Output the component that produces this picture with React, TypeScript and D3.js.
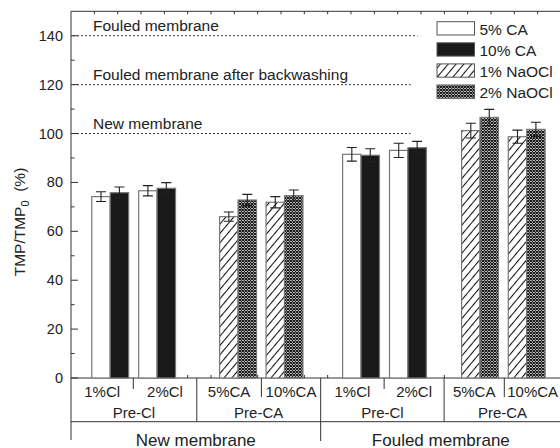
import * as d3 from 'd3';
import { useEffect, useRef } from 'react';

// sub-categories (x table, first row)
const groups = ['1%Cl', '2%Cl', '5%CA', '10%CA', '1%Cl', '2%Cl', '5%CA', '10%CA'];
// bar pair centres in x-axis units
const groupPos = [1.68, 3.69, 7.16, 9.15, 12.43, 14.44, 17.53, 19.53];
// treatment shown by each pair
const groupKind = ['CA', 'CA', 'NaOCl', 'NaOCl', 'CA', 'CA', 'NaOCl', 'NaOCl'];

// low dose bar (5% CA / 1% NaOCl) and high dose bar (10% CA / 2% NaOCl)
const lowValues = [74.2, 76.6, 66.0, 71.9, 91.5, 93.1, 101.2, 98.7];
const lowErrors = [2.0, 2.1, 1.9, 2.3, 2.8, 2.9, 3.0, 2.7];
const highValues = [75.8, 77.6, 72.8, 74.6, 91.1, 94.2, 106.6, 101.7];
const highErrors = [2.3, 2.3, 2.3, 2.3, 2.7, 2.6, 3.3, 2.9];

const legendLabels = ['5% CA', '10% CA', '1% NaOCl', '2% NaOCl'];

// reference TMP levels
const refValues = [140, 120, 100];
const refLabels = ['Fouled membrane', 'Fouled membrane after backwashing', 'New membrane'];
const refEnds = [14.85, 14.55, 14.55];

// table of x categories
const cellEdges = [0, 2.67, 5.39, 8.16, 10.7, 13.42, 15.99, 18.57, 21.0];
const pretreatLabels = ['Pre-Cl', 'Pre-CA', 'Pre-Cl', 'Pre-CA'];
const membraneLabels = ['New membrane', 'Fouled membrane'];

const yTicks = [0, 20, 40, 60, 80, 100, 120, 140];

export default function App() {
  const chartRef = useRef(null);

  const width = 560;
  const height = 448;
  const margin = { top: 11.3, left: 71, bottom: 378 };
  const font = 'Liberation Sans, Arial, sans-serif';

  useEffect(() => {
    const svg = d3.select(chartRef.current);
    svg.selectAll('*').remove();

    const x = d3.scaleLinear().domain([0, 21.3]).range([margin.left, 568]);
    const y = d3.scaleLinear().domain([0, 150]).range([margin.bottom, margin.top]);

    // patterns
    const defs = svg.append('defs');
    const hatch = defs
      .append('pattern')
      .attr('id', 'hatch')
      .attr('patternUnits', 'userSpaceOnUse')
      .attr('width', 6)
      .attr('height', 6)
      .attr('patternTransform', 'rotate(40)');
    hatch.append('rect').attr('width', 6).attr('height', 6).attr('fill', 'white');
    hatch
      .append('line')
      .attr('x1', 0.5)
      .attr('y1', 0)
      .attr('x2', 0.5)
      .attr('y2', 6)
      .attr('stroke', '#111')
      .attr('stroke-width', 1.1);

    const cross = defs
      .append('pattern')
      .attr('id', 'cross')
      .attr('patternUnits', 'userSpaceOnUse')
      .attr('width', 3)
      .attr('height', 3);
    cross.append('rect').attr('width', 3).attr('height', 3).attr('fill', 'white');
    cross
      .append('path')
      .attr('d', 'M0,0L3,3M3,0L0,3')
      .attr('stroke', '#111')
      .attr('stroke-width', 1.1);

    const fills = {
      CA: ['white', '#1a1a1a'],
      NaOCl: ['url(#hatch)', 'url(#cross)'],
    };

    // frame
    svg
      .append('line')
      .attr('x1', x(0))
      .attr('x2', x(21.3))
      .attr('y1', y(150))
      .attr('y2', y(150))
      .attr('stroke', '#333');
    svg
      .append('line')
      .attr('x1', x(0))
      .attr('x2', x(21.3))
      .attr('y1', y(0))
      .attr('y2', y(0))
      .attr('stroke', '#333');
    svg
      .append('line')
      .attr('x1', x(0))
      .attr('x2', x(0))
      .attr('y1', y(150))
      .attr('y2', 440)
      .attr('stroke', '#333');

    // x ticks on top and bottom
    const xt = d3.range(1, 22);
    svg
      .selectAll('.xtTop')
      .data(xt)
      .enter()
      .append('line')
      .attr('x1', (d) => x(d))
      .attr('x2', (d) => x(d))
      .attr('y1', y(150))
      .attr('y2', y(150) + 3)
      .attr('stroke', '#333');
    svg
      .selectAll('.xtBot')
      .data(xt)
      .enter()
      .append('line')
      .attr('x1', (d) => x(d))
      .attr('x2', (d) => x(d))
      .attr('y1', y(0))
      .attr('y2', y(0) - 3)
      .attr('stroke', '#333');

    // y axis ticks
    svg
      .selectAll('.yMinor')
      .data(d3.range(10, 150, 20))
      .enter()
      .append('line')
      .attr('x1', x(0))
      .attr('x2', x(0) + 3.5)
      .attr('y1', (d) => y(d))
      .attr('y2', (d) => y(d))
      .attr('stroke', '#333');
    svg
      .selectAll('.yMajor')
      .data(yTicks)
      .enter()
      .append('line')
      .attr('x1', x(0))
      .attr('x2', x(0) + 7)
      .attr('y1', (d) => y(d))
      .attr('y2', (d) => y(d))
      .attr('stroke', '#333');
    svg
      .selectAll('.yLab')
      .data(yTicks)
      .enter()
      .append('text')
      .attr('x', x(0) - 8)
      .attr('y', (d) => y(d) + 5)
      .attr('text-anchor', 'end')
      .style('font-family', font)
      .style('font-size', '14.5px')
      .attr('fill', '#222')
      .text((d) => d);

    // y label
    const yl = svg
      .append('text')
      .attr('transform', 'translate(25,222) rotate(-90)')
      .attr('text-anchor', 'middle')
      .style('font-family', font)
      .style('font-size', '15.5px')
      .attr('fill', '#222');
    yl.append('tspan').text('TMP/TMP');
    yl.append('tspan').attr('dy', 4).style('font-size', '11px').text('0');
    yl.append('tspan').attr('dy', -4).text('\u00a0 (%)');

    // reference lines
    refValues.forEach((v, i) => {
      svg
        .append('line')
        .attr('x1', x(0) + 2)
        .attr('x2', x(refEnds[i]))
        .attr('y1', y(v))
        .attr('y2', y(v))
        .attr('stroke', '#333')
        .attr('stroke-dasharray', '2 2');
      svg
        .append('text')
        .attr('x', 93)
        .attr('y', y(v) - 5)
        .style('font-family', font)
        .style('font-size', '15.5px')
        .attr('fill', '#222')
        .text(refLabels[i]);
    });

    // bars
    const bw = 0.79;
    const drawBars = (vals, errs, side) => {
      const g = svg.append('g');
      vals.forEach((v, i) => {
        const x0 = side === 0 ? groupPos[i] - bw : groupPos[i];
        g.append('rect')
          .attr('x', x(x0))
          .attr('y', y(v))
          .attr('width', x(x0 + bw) - x(x0))
          .attr('height', y(0) - y(v))
          .attr('fill', fills[groupKind[i]][side])
          .attr('stroke', '#777')
          .attr('stroke-width', 1.2);
        const cx = x(x0 + bw / 2);
        const e = errs[i];
        g.append('path')
          .attr(
            'd',
            `M${cx},${y(v - e)}V${y(v + e)}M${cx - 5},${y(v + e)}H${cx + 5}M${cx - 5},${y(v - e)}H${cx + 5}`,
          )
          .attr('stroke', '#222')
          .attr('stroke-width', 1.1)
          .attr('fill', 'none');
      });
    };
    drawBars(lowValues, lowErrors, 0);
    drawBars(highValues, highErrors, 1);

    // legend
    const legendFills = ['white', '#1a1a1a', 'url(#hatch)', 'url(#cross)'];
    legendLabels.forEach((l, i) => {
      const ly = 21.7 + i * 21.1;
      svg
        .append('rect')
        .attr('x', 437)
        .attr('y', ly)
        .attr('width', 37.5)
        .attr('height', 13.3)
        .attr('fill', legendFills[i])
        .attr('stroke', '#555')
        .attr('stroke-width', 1);
      svg
        .append('text')
        .attr('x', 479.5)
        .attr('y', ly + 13.3)
        .style('font-family', font)
        .style('font-size', '15.5px')
        .attr('fill', '#222')
        .text(l);
    });

    // category table
    const tbl = svg.append('g').attr('stroke', '#333');
    [1, 3, 5, 7].forEach((k) => {
      const len = groups[k] === '2%Cl' ? 11 : 19;
      tbl
        .append('line')
        .attr('x1', x(cellEdges[k]))
        .attr('x2', x(cellEdges[k]))
        .attr('y1', y(0))
        .attr('y2', y(0) + len);
    });
    [2, 6].forEach((k) => {
      tbl
        .append('line')
        .attr('x1', x(cellEdges[k]))
        .attr('x2', x(cellEdges[k]))
        .attr('y1', y(0))
        .attr('y2', 421.7);
    });
    tbl
      .append('line')
      .attr('x1', x(cellEdges[4]))
      .attr('x2', x(cellEdges[4]))
      .attr('y1', y(0))
      .attr('y2', 441);
    tbl
      .append('line')
      .attr('x1', x(0))
      .attr('x2', x(21.3))
      .attr('y1', 421.7)
      .attr('y2', 421.7);

    const label = (t, cx, cy, size) =>
      svg
        .append('text')
        .attr('x', cx)
        .attr('y', cy)
        .attr('text-anchor', 'middle')
        .style('font-family', font)
        .style('font-size', size)
        .attr('fill', '#222')
        .text(t);

    groups.forEach((gname, i) =>
      label(gname, x((cellEdges[i] + cellEdges[i + 1]) / 2), 397, '15px'),
    );
    pretreatLabels.forEach((p, i) =>
      label(p, x((cellEdges[i * 2] + cellEdges[i * 2 + 2]) / 2), 417.5, '15px'),
    );
    membraneLabels.forEach((m, i) =>
      label(m, x((cellEdges[i * 4] + cellEdges[i * 4 + 4]) / 2), 446, '17px'),
    );
  }, []);

  return (
    <svg
      width={width}
      height={height}
      ref={chartRef}
      style={{ position: 'absolute', left: 0, top: 0, background: 'white' }}
    />
  );
}
